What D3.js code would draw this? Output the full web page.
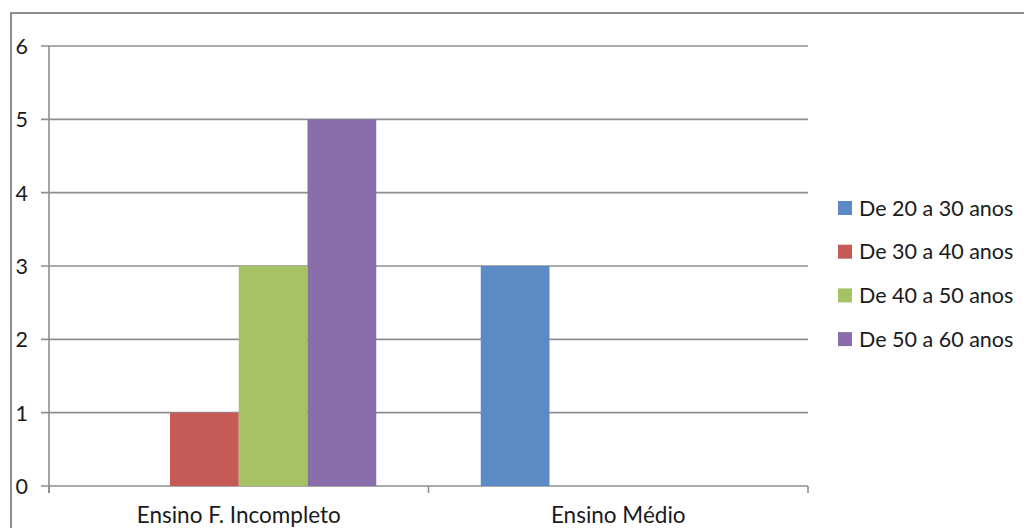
<!DOCTYPE html>
<html>
<head>
<meta charset="utf-8">
<script src="https://cdn.jsdelivr.net/npm/d3@7"></script>
<style>
  body { margin: 0; background: #fff; }
  svg text { font-family: Lato, "Liberation Sans", sans-serif; fill: #1a1a1a; }
</style>
</head>
<body>
<svg class="chart"></svg>
<script>
// data
const categories = ["Ensino F. Incompleto", "Ensino Médio"];
const seriesNames = ["De 20 a 30 anos", "De 30 a 40 anos", "De 40 a 50 anos", "De 50 a 60 anos"];
const deVinteATrinta = [0, 3];
const deTrintaAQuarenta = [1, 0];
const deQuarentaACinquenta = [3, 0];
const deCinquentaASessenta = [5, 0];
const yTicks = [0, 1, 2, 3, 4, 5, 6];
const colors = ["#5b8ac5", "#c65a56", "#a5c264", "#8a6eab"];

const seriesValues = [deVinteATrinta, deTrintaAQuarenta, deQuarentaACinquenta, deCinquentaASessenta];

const width = 1024, height = 528;
const margin = { left: 49, right: 216, top: 46, bottom: 42 };
const innerW = width - margin.left - margin.right;
const innerH = height - margin.top - margin.bottom;
const gridColor = "#8e8e8e";
const fontSize = "21.5px";

const svg = d3.select(".chart").attr("width", width).attr("height", height);
svg.append("rect").attr("width", width).attr("height", height).attr("fill", "#fff");

// outer frame of the chart object, runs off the right and bottom edges
svg.append("rect").attr("x", 11).attr("y", 13).attr("width", 1100).attr("height", 600)
  .attr("fill", "none").attr("stroke", gridColor).attr("stroke-width", 2);

const chart = svg.append("g").attr("transform", `translate(${margin.left},${margin.top})`);

const x0 = d3.scaleBand().domain(categories).range([0, innerW]).padding(0);
const x1 = d3.scaleBand().domain(seriesNames).range([0, x0.bandwidth()]).paddingInner(0).paddingOuter(0.76);
const y = d3.scaleLinear().domain([0, 6]).range([innerH, 0]);

// gridlines
chart.append("g").selectAll("line").data(yTicks).join("line")
  .attr("x1", -8).attr("x2", innerW)
  .attr("y1", d => y(d)).attr("y2", d => y(d))
  .attr("stroke", gridColor).attr("stroke-width", 1.6);

// bars
const groups = chart.append("g").selectAll("g").data(categories).join("g")
  .attr("transform", d => `translate(${x0(d)},0)`);
groups.selectAll("rect")
  .data((c, ci) => seriesNames.map((s, si) => ({ s, si, v: seriesValues[si][ci] })))
  .join("rect")
  .attr("x", d => x1(d.s))
  .attr("width", x1.bandwidth())
  .attr("y", d => y(d.v))
  .attr("height", d => innerH - y(d.v))
  .attr("fill", d => colors[d.si]);

// y axis
const yAxis = chart.append("g")
  .call(d3.axisLeft(y).tickValues(yTicks).tickSize(0).tickPadding(21).tickFormat(d3.format("d")));
yAxis.select(".domain").remove();
yAxis.selectAll("text").style("font-size", fontSize).attr("dy", "0.35em");
chart.append("line").attr("x1", 0).attr("x2", 0).attr("y1", 0).attr("y2", innerH + 7)
  .attr("stroke", gridColor).attr("stroke-width", 1.6);

// x axis: ticks on category boundaries
const boundaries = [0].concat(categories.map(c => x0(c) + x0.bandwidth()));
chart.append("g").selectAll("line").data(boundaries).join("line")
  .attr("x1", d => d).attr("x2", d => d).attr("y1", innerH).attr("y2", innerH + 7)
  .attr("stroke", gridColor).attr("stroke-width", 1.6);
chart.append("g").selectAll("text").data(categories).join("text")
  .attr("x", d => x0(d) + x0.bandwidth() / 2)
  .attr("y", innerH + 37)
  .attr("text-anchor", "middle")
  .style("font-size", "22.5px")
  .text(d => d);

// legend
const legend = svg.append("g").attr("transform", "translate(838,208)");
const rows = legend.selectAll("g").data(seriesNames).join("g")
  .attr("transform", (d, i) => `translate(0,${i * 43.7})`);
rows.append("rect").attr("x", 0).attr("y", -7).attr("width", 14).attr("height", 14)
  .attr("fill", (d, i) => colors[i]);
rows.append("text").attr("x", 21).attr("y", 0).attr("dy", "0.35em")
  .style("font-size", fontSize).text(d => d);
</script>
</body>
</html>
